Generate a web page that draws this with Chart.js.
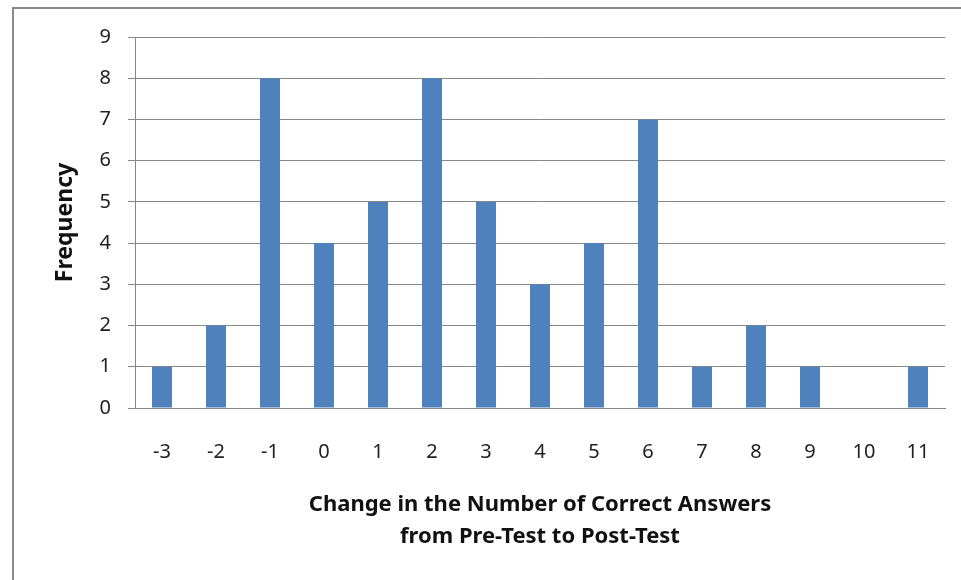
<!DOCTYPE html>
<html>
<head>
<meta charset="utf-8">
<script src="https://cdn.jsdelivr.net/npm/chart.js@4"></script>
<style>
  html, body { margin: 0; padding: 0; background: #fff; }
  #wrap { position: relative; width: 961px; height: 580px; }
  #frame { position: absolute; left: 12px; top: 7px; width: 960px; height: 600px;
           border-left: 2px solid #8a8a8a; border-top: 2px solid #8a8a8a; box-sizing: border-box; }
  canvas { position: absolute; left: 0; top: 0; }
</style>
</head>
<body>
<div id="wrap">
  <div id="frame"></div>
  <canvas id="myChart" width="961" height="580"></canvas>
</div>
<script>
const labels = ['-3', '-2', '-1', '0', '1', '2', '3', '4', '5', '6', '7', '8', '9', '10', '11'];
const frequency = [1, 2, 8, 4, 5, 8, 5, 3, 4, 7, 1, 2, 1, 0, 1];
const yTicks = [0, 1, 2, 3, 4, 5, 6, 7, 8, 9];

const data = {
    labels: labels,
    datasets: [{
        label: 'Frequency',
        data: frequency,
        backgroundColor: '#4f81bd',
        barPercentage: 0.37,
        categoryPercentage: 1
    }]
};

const config = {
    type: 'bar',
    data: data,
    options: {
        responsive: false,
        animation: false,
        layout: { padding: { top: 37, right: 16, left: 0, bottom: 0 } },
        plugins: {
            legend: { display: false },
            tooltip: { enabled: false }
        },
        scales: {
            x: {
                grid: { display: false },
                border: { display: true, color: '#868686' },
                ticks: { color: '#222', font: { family: 'Noto Sans', size: 20 }, padding: 24, maxRotation: 0 },
                title: {
                    display: true,
                    text: ['Change in the Number of Correct Answers', 'from Pre-Test to Post-Test'],
                    color: '#111',
                    font: { family: 'Noto Sans', size: 22, weight: 'bold', lineHeight: '32px' },
                    padding: { top: 0, bottom: 27 }
                },
                afterFit: function (scale) { scale.height = 172; }
            },
            y: {
                min: 0,
                max: 9,
                afterBuildTicks: function (scale) { scale.ticks = yTicks.map(v => ({ value: v })); },
                grid: { color: '#868686', tickLength: 7 },
                border: { display: true, color: '#868686' },
                ticks: { color: '#222', font: { family: 'Noto Sans', size: 20 }, padding: 17 },
                title: {
                    display: true,
                    text: 'Frequency',
                    color: '#111',
                    font: { family: 'Noto Sans', size: 23, weight: 'bold', lineHeight: 1.2 },
                    padding: { top: 52, bottom: 0 }
                },
                afterFit: function (scale) { scale.width = 135; }
            }
        }
    }
};

const chart = new Chart(document.getElementById('myChart'), config);
</script>
</body>
</html>
